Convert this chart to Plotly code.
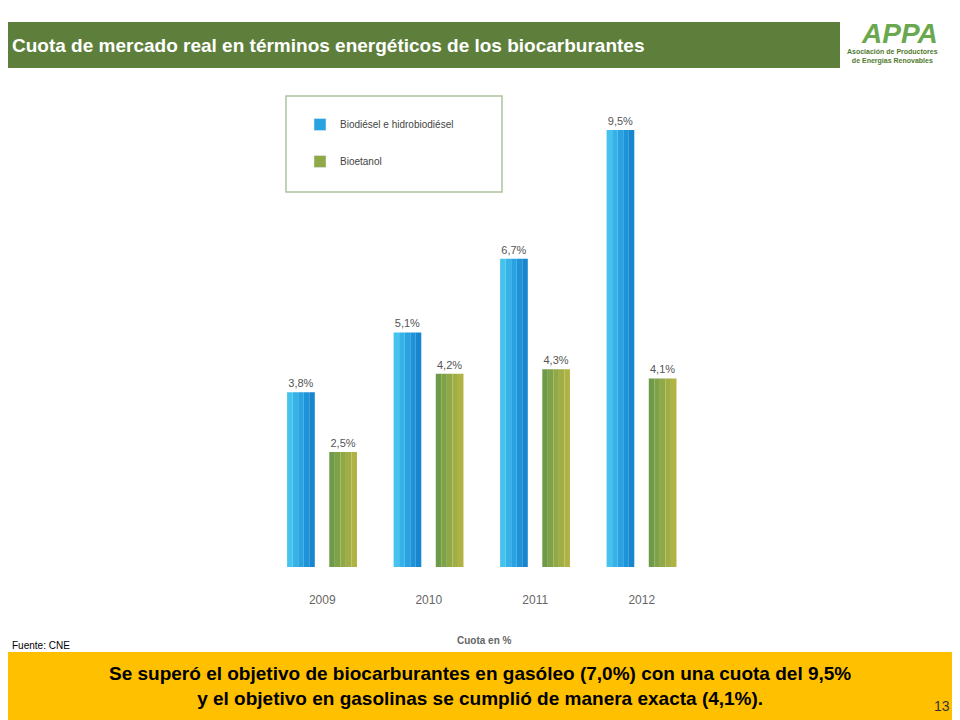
import plotly.graph_objects as go

years = ["2009", "2010", "2011", "2012"]
biodiesel = [3.8, 5.1, 6.7, 9.5]
bioetanol = [2.5, 4.2, 4.3, 4.1]
lbl_bio = ["3,8%", "5,1%", "6,7%", "9,5%"]
lbl_eta = ["2,5%", "4,2%", "4,3%", "4,1%"]

# the page adds an 8px margin, so shift everything back
def px(x):
    return (x - 8) / 960

def py(y):
    return 1 - (y - 8) / 720

blue_steps = ["#45c3ef", "#35b2e8", "#28a2e0", "#1f93d8", "#1885cf"]
green_steps = ["#6f9a48", "#7fa147", "#90a846", "#a0ae45", "#b0b344"]

fig = go.Figure()
W = 0.26
n = len(blue_steps)
for series, colors, off0 in [(biodiesel, blue_steps, -0.33), (bioetanol, green_steps, 0.066)]:
    for i, c in enumerate(colors):
        fig.add_trace(go.Bar(x=years, y=series, width=W / n, offset=off0 + i * W / n,
                             marker=dict(color=c, line_width=0), showlegend=False,
                             hoverinfo="skip"))
fig.add_trace(go.Bar(x=years, y=biodiesel, showlegend=False,
                     width=W, offset=-0.33, marker=dict(color="rgba(0,0,0,0)", line_width=0),
                     text=lbl_bio, textposition="outside", cliponaxis=False,
                     textfont=dict(size=11, color="#555")))
fig.add_trace(go.Bar(x=years, y=bioetanol, showlegend=False,
                     width=W, offset=0.066, marker=dict(color="rgba(0,0,0,0)", line_width=0),
                     text=lbl_eta, textposition="outside", cliponaxis=False,
                     textfont=dict(size=11, color="#555")))
# legend swatches
fig.add_trace(go.Bar(x=[None], y=[None], name="Biodiésel e hidrobiodiésel",
                     marker_color="#28a2e0", legendgroup="a"))
fig.add_trace(go.Bar(x=[None], y=[None], name="Bioetanol",
                     marker_color="#90a846", legendgroup="b"))

fig.update_layout(
    width=960, height=720, margin=dict(l=0, r=0, t=0, b=0),
    paper_bgcolor="white", plot_bgcolor="white", barmode="overlay",
    font=dict(family="Liberation Sans, Arial"),
    xaxis=dict(domain=[px(269), px(695)], range=[-0.5, 3.5], showgrid=False,
               showline=False, ticks="outside", ticklen=22, tickcolor="white",
               tickfont=dict(size=12, color="#666")),
    yaxis=dict(domain=[py(567), py(90)], range=[0, 477/46], visible=False),
    legend=dict(x=px(300), y=py(110), xanchor="left", yanchor="top",
                bgcolor="rgba(0,0,0,0)", borderwidth=0,
                font=dict(size=10, color="#444"), tracegroupgap=18,
                traceorder="grouped"),
    shapes=[
        dict(type="rect", xref="paper", yref="paper", x0=px(-10), x1=px(840),
             y0=py(68), y1=py(22), fillcolor="#5e7f3c", line_width=0),
        dict(type="rect", xref="paper", yref="paper", x0=0, x1=1,
             y0=py(740), y1=py(652), fillcolor="#ffc000", line_width=0),
        dict(type="rect", xref="paper", yref="paper", x0=px(286), x1=px(502),
             y0=py(192), y1=py(96), line=dict(color="#a8c4a0", width=1.5)),
    ],
    annotations=[
        dict(text="<b>Cuota de mercado real en términos energéticos de los biocarburantes</b>",
             xref="paper", yref="paper", x=px(10), y=py(45), xanchor="left",
             yanchor="middle", showarrow=False, font=dict(size=19, color="white")),
        dict(text="<b><i>APPA</i></b>", xref="paper", yref="paper", x=px(940), y=py(34),
             yanchor="middle", showarrow=False, font=dict(size=28, color="#6aa84f")),
        dict(text="<b>Asociación de Productores<br>de Energías Renovables</b>", xref="paper",
             yref="paper", x=px(940), y=py(57), yanchor="middle", showarrow=False,
             font=dict(size=7, color="#4f7a2e")),
        dict(text="<b>Cuota en %</b>", xref="paper", yref="paper", x=px(484), y=py(640),
             yanchor="middle", showarrow=False, font=dict(size=10, color="#666")),
        dict(text="Fuente: CNE", xref="paper", yref="paper", x=px(10), y=py(645),
             xanchor="left", yanchor="middle", showarrow=False, font=dict(size=10, color="black")),
        dict(text="<b>Se superó el objetivo de biocarburantes en gasóleo (7,0%) con una cuota del 9,5%<br>"
                  "y el objetivo en gasolinas se cumplió de manera exacta (4,1%).</b>",
             xref="paper", yref="paper", x=px(480), y=py(686), yanchor="middle",
             showarrow=False, font=dict(size=19, color="black")),
        dict(text="13", xref="paper", yref="paper", x=px(952), y=py(706), yanchor="middle",
             showarrow=False, font=dict(size=14, color="#333")),
    ],
)
fig.write_html("out.html")
